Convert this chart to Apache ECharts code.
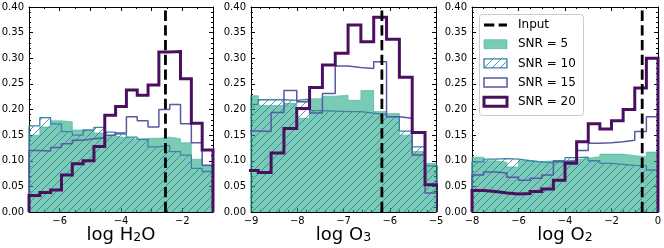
<!DOCTYPE html>
<html><head><meta charset="utf-8">
<script src="https://cdn.jsdelivr.net/npm/echarts@6/dist/echarts.min.js"></script>
<style>html,body{margin:0;padding:0;background:#fff}#c{width:664px;height:248px}</style>
</head><body><div id="c"></div>
<script>
// ---------------- data ----------------
// bin ranges (x) of each histogram; number of bins = length of value arrays
const h2oBinRange = [-7, -1];
const o3BinRange = [-9.12, -4.96];
const o2BinRange = [-8, 0];

// log H2O panel (17 bins)
const h2oSNR5  = [0.150, 0.166, 0.178, 0.176, 0.160, 0.158, 0.154, 0.148, 0.145, 0.142, 0.140, 0.144, 0.146, 0.143, 0.135, 0.103, 0.090];
const h2oSNR10 = [0.168, 0.184, 0.172, 0.157, 0.150, 0.160, 0.165, 0.156, 0.152, 0.146, 0.142, 0.127, 0.130, 0.118, 0.111, 0.085, 0.079];
const h2oSNR15 = [0.120, 0.119, 0.126, 0.133, 0.140, 0.143, 0.145, 0.150, 0.154, 0.186, 0.178, 0.166, 0.200, 0.210, 0.172, 0.135, 0.091];
const h2oSNR20 = [0.032, 0.038, 0.043, 0.072, 0.094, 0.100, 0.128, 0.189, 0.206, 0.238, 0.228, 0.248, 0.312, 0.313, 0.260, 0.173, 0.121];

// log O3 panel (15 bins)
const o3SNR5  = [0.227, 0.208, 0.208, 0.212, 0.183, 0.221, 0.226, 0.228, 0.218, 0.237, 0.196, 0.192, 0.150, 0.118, 0.095];
const o3SNR10 = [0.210, 0.219, 0.219, 0.218, 0.220, 0.198, 0.197, 0.196, 0.196, 0.193, 0.190, 0.186, 0.158, 0.127, 0.090];
const o3SNR15 = [0.158, 0.157, 0.194, 0.237, 0.215, 0.193, 0.231, 0.285, 0.282, 0.280, 0.293, 0.186, 0.183, 0.111, 0.037];
const o3SNR20 = [0.081, 0.077, 0.115, 0.163, 0.202, 0.243, 0.287, 0.310, 0.365, 0.332, 0.380, 0.337, 0.263, 0.155, 0.053];

// log O2 panel (16 bins)
const o2SNR5  = [0.107, 0.100, 0.097, 0.088, 0.100, 0.098, 0.100, 0.100, 0.102, 0.105, 0.108, 0.113, 0.113, 0.110, 0.108, 0.117];
const o2SNR10 = [0.098, 0.103, 0.104, 0.103, 0.100, 0.098, 0.096, 0.100, 0.106, 0.107, 0.100, 0.095, 0.093, 0.091, 0.090, 0.082];
const o2SNR15 = [0.072, 0.078, 0.076, 0.068, 0.062, 0.066, 0.072, 0.098, 0.100, 0.120, 0.134, 0.135, 0.137, 0.140, 0.157, 0.186];
const o2SNR20 = [0.042, 0.040, 0.037, 0.035, 0.036, 0.040, 0.045, 0.062, 0.095, 0.137, 0.172, 0.162, 0.178, 0.200, 0.242, 0.300];

// input (true) values
const inputValues = [-2.55, -6.17, -0.68];

// axes
const xLimits = [[-7, -1], [-9, -5], [-8, 0]];
const xTickInterval = [1, 1, 2];
const xLabelEvery = [2, 1, 2];
const xMinorSplit = [2, 5, 4];
const yLimits = [0, 0.40];
const yTickInterval = 0.05;
const seriesNames = ['SNR = 5', 'SNR = 10', 'SNR = 15', 'SNR = 20'];
const legendLabels = ['Input', 'SNR = 5', 'SNR = 10', 'SNR = 15', 'SNR = 20'];

// ---------------- styling ----------------
const FONT = 'DejaVu Sans';
const C5 = 'rgba(34,168,132,0.6)';
const C10 = '#3a83a6';
const C15 = '#5659a3';
const C20 = '#4b0f60';
const grids = [
  {left: 29, top: 7, width: 184, height: 205, containLabel: false, outerBoundsMode: 'none'},
  {left: 251, top: 7, width: 185, height: 205, containLabel: false, outerBoundsMode: 'none'},
  {left: 472, top: 7, width: 186, height: 205, containLabel: false, outerBoundsMode: 'none'}
];
const axisNames = [
  '{a|log H}{s|2}{a|O}',
  '{a|log O}{s|3}',
  '{a|log O}{s|2}'
];

function hatchCanvas(color) {
  const s = 8;
  const c = document.createElement('canvas');
  c.width = s; c.height = s;
  const g = c.getContext('2d');
  g.strokeStyle = color; g.lineWidth = 0.9;
  g.beginPath();
  g.moveTo(0, s); g.lineTo(s, 0);
  g.moveTo(-1, 1); g.lineTo(1, -1);
  g.moveTo(s - 1, s + 1); g.lineTo(s + 1, s - 1);
  g.stroke();
  return c;
}
const hatchFill = {image: hatchCanvas(C10), repeat: 'repeat'};

function stepData(range, vals) {
  const n = vals.length, w = (range[1] - range[0]) / n;
  const d = [[range[0], 0]];
  for (let i = 0; i < n; i++) d.push([range[0] + i * w, vals[i]]);
  d.push([range[1], vals[n - 1]]);
  d.push([range[1], 0]);
  return d;
}
function fmtX(v) {
  const s = String(Math.round(v * 100) / 100);
  return v < 0 ? '\u2212' + s.slice(1) : s;
}

const panels = [
  {range: h2oBinRange, vals: [h2oSNR5, h2oSNR10, h2oSNR15, h2oSNR20]},
  {range: o3BinRange, vals: [o3SNR5, o3SNR10, o3SNR15, o3SNR20]},
  {range: o2BinRange, vals: [o2SNR5, o2SNR10, o2SNR15, o2SNR20]}
];

const xAxis = [], yAxis = [], series = [];
panels.forEach((p, g) => {
  const every = xLabelEvery[g];
  const common = {
    gridIndex: g, type: 'value', min: xLimits[g][0], max: xLimits[g][1],
    interval: xTickInterval[g],
    axisLine: {show: true, onZero: false, lineStyle: {color: '#000', width: 1}},
    axisTick: {show: true, inside: true, length: 4, lineStyle: {color: '#000', width: 1}},
    minorTick: {show: true, splitNumber: xMinorSplit[g], length: 2, lineStyle: {color: '#000', width: 1}},
    splitLine: {show: false}
  };
  xAxis.push(Object.assign({}, common, {
    position: 'bottom',
    axisLabel: {
      show: true, color: '#000', fontSize: 10, fontFamily: FONT, margin: 4,
      showMinLabel: true, showMaxLabel: true,
      formatter: v => (Math.abs(v / every - Math.round(v / every)) < 1e-6 ? fmtX(v) : '')
    },
    name: axisNames[g], nameLocation: 'middle', nameGap: 10, nameMoveOverlap: false,
    nameTextStyle: {
      fontFamily: FONT, color: '#000',
      rich: {
        a: {fontSize: 18, fontFamily: FONT, color: '#000', lineHeight: 22, verticalAlign: 'bottom'},
        s: {fontSize: 12.5, fontFamily: FONT, color: '#000', lineHeight: 13, verticalAlign: 'bottom'}
      }
    }
  }));
  xAxis.push(Object.assign({}, common, {position: 'top', axisLabel: {show: false}}));

  const yCommon = {
    gridIndex: g, type: 'value', min: yLimits[0], max: yLimits[1], interval: yTickInterval,
    axisLine: {show: true, onZero: false, lineStyle: {color: '#000', width: 1}},
    axisTick: {show: true, inside: true, length: 4, lineStyle: {color: '#000', width: 1}},
    minorTick: {show: true, splitNumber: 5, length: 2, lineStyle: {color: '#000', width: 1}},
    splitLine: {show: false}
  };
  yAxis.push(Object.assign({}, yCommon, {
    position: 'left',
    axisLabel: {show: true, color: '#000', fontSize: 10, fontFamily: FONT, margin: 5,
      formatter: v => v.toFixed(2)}
  }));
  yAxis.push(Object.assign({}, yCommon, {position: 'right', axisLabel: {show: false}}));

  const xi = g * 2, yi = g * 2;
  const base = {type: 'line', xAxisIndex: xi, yAxisIndex: yi, step: 'end', symbol: 'none',
    showSymbol: false, animation: false, clip: true, silent: true};
  series.push(Object.assign({}, base, {
    name: seriesNames[0], data: stepData(p.range, p.vals[0]),
    lineStyle: {width: 0.8, color: C5}, areaStyle: {color: C5, opacity: 1}, z: 2
  }));
  series.push(Object.assign({}, base, {
    name: seriesNames[1], data: stepData(p.range, p.vals[1]),
    lineStyle: {width: 1.3, color: C10}, areaStyle: {color: hatchFill, opacity: 1}, z: 3
  }));
  series.push(Object.assign({}, base, {
    name: seriesNames[2], data: stepData(p.range, p.vals[2]),
    lineStyle: {width: 1.5, color: C15}, z: 4
  }));
  series.push(Object.assign({}, base, {
    name: seriesNames[3], data: stepData(p.range, p.vals[3]),
    lineStyle: {width: 3, color: C20, join: 'miter'}, z: 5
  }));
  series.push({
    type: 'line', name: 'Input', xAxisIndex: xi, yAxisIndex: yi, symbol: 'none', animation: false,
    silent: true, z: 6,
    data: [[inputValues[g], yLimits[0]], [inputValues[g], yLimits[1]]],
    lineStyle: {color: '#000', width: 2.8, type: [10.3, 4.4]}
  });
});

// legend (drawn as graphic, in the third panel)
const lgX = 479.5, lgY = 14.5, rowH = 19.2, row0 = 25;
const legendGraphic = [
  {type: 'rect', shape: {x: lgX, y: lgY, width: 104, height: 101, r: 3},
   style: {fill: 'rgba(255,255,255,0.85)', stroke: '#cccccc', lineWidth: 1}, z: 100},
  {type: 'line', shape: {x1: 484, y1: row0, x2: 507, y2: row0},
   style: {stroke: '#000', lineWidth: 2.8, lineDash: [10.3, 4.4]}, z: 101},
  {type: 'rect', shape: {x: 484, y: row0 + rowH - 4.5, width: 23, height: 9},
   style: {fill: C5, stroke: C5, lineWidth: 0.8}, z: 101},
  {type: 'rect', shape: {x: 484, y: row0 + 2 * rowH - 4.5, width: 23, height: 9},
   style: {fill: hatchFill, stroke: C10, lineWidth: 1.3}, z: 101},
  {type: 'rect', shape: {x: 484, y: row0 + 3 * rowH - 4.5, width: 23, height: 9},
   style: {fill: 'none', stroke: C15, lineWidth: 1.5}, z: 101},
  {type: 'rect', shape: {x: 484, y: row0 + 4 * rowH - 4.5, width: 23, height: 9},
   style: {fill: 'none', stroke: C20, lineWidth: 3}, z: 101}
];
legendLabels.forEach((t, i) => {
  legendGraphic.push({type: 'text', x: 518, y: row0 + i * rowH, z: 101,
    style: {text: t, fill: '#000', font: '12px "DejaVu Sans"', verticalAlign: 'middle', align: 'left'}});
});

const chart = echarts.init(document.getElementById('c'), null, {renderer: 'canvas'});
chart.setOption({
  animation: false,
  backgroundColor: '#fff',
  textStyle: {fontFamily: FONT},
  grid: grids,
  xAxis: xAxis,
  yAxis: yAxis,
  series: series,
  graphic: legendGraphic
});
</script>
</body></html>
